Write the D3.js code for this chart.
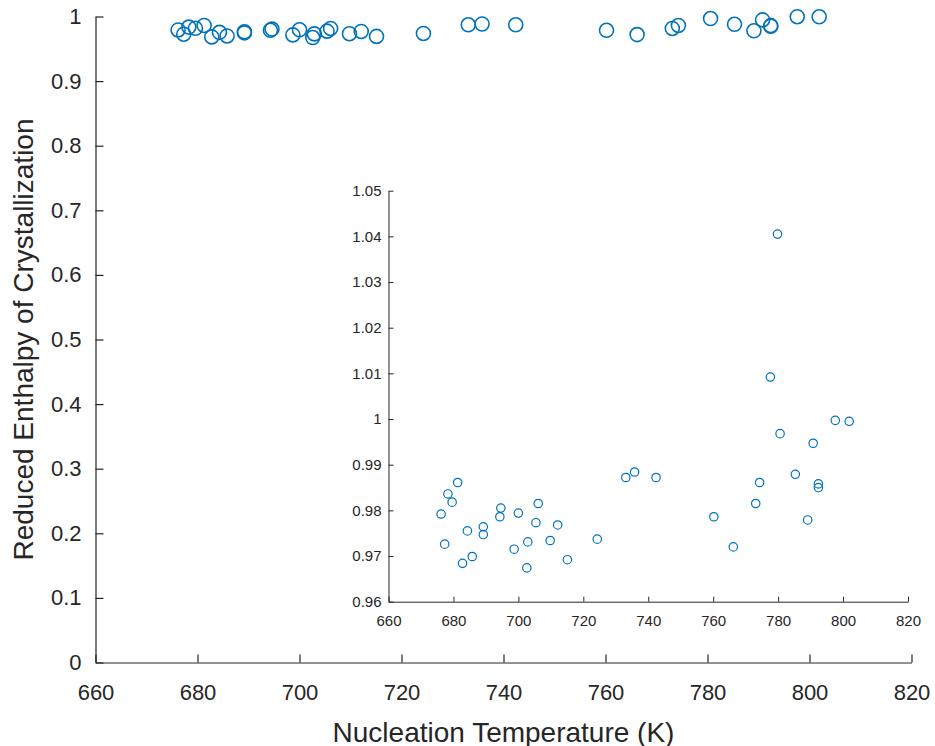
<!DOCTYPE html>
<html>
<head>
<meta charset="utf-8">
<script src="https://cdn.jsdelivr.net/npm/d3@7"></script>
<style>
  html, body { margin: 0; padding: 0; background: #fff; }
  svg text { font-family: "Liberation Sans", Arial, Helvetica, sans-serif; fill: #262626; }
</style>
</head>
<body>
<svg id="chart" width="935" height="746"></svg>
<script>
// Nucleation temperature (K) and reduced enthalpy of crystallization per run
const temperature = [
  676.2, 677.3, 678.3, 679.6, 681.3, 682.8, 684.3, 685.8, 689.2, 689.2,
  694.3, 694.6, 698.7, 700.0, 702.6, 702.9, 705.4, 706.1, 709.8, 712.1,
  715.1, 724.3, 733.1, 735.8, 742.4, 760.2, 766.2, 773.1, 774.3, 777.6,
  779.8, 780.6, 785.3, 789.1, 790.8, 792.4, 792.4, 797.6, 801.9
];
const enthalpy = [
  0.9792, 0.9726, 0.9836, 0.9818, 0.9861, 0.9684, 0.9755, 0.9699, 0.9764, 0.9747,
  0.9786, 0.9805, 0.9715, 0.9794, 0.9674, 0.9731, 0.9773, 0.9815, 0.9734, 0.9768,
  0.9692, 0.9737, 0.9872, 0.9884, 0.9872, 0.9786, 0.9720, 0.9815, 0.9861, 1.0092,
  1.0405, 0.9968, 0.9879, 0.9779, 0.9947, 0.9858, 0.9850, 0.9997, 0.9995
];

// Axis limits and tick values
const xTicks = [660, 680, 700, 720, 740, 760, 780, 800, 820];
const mainYTicks = [0, 0.1, 0.2, 0.3, 0.4, 0.5, 0.6, 0.7, 0.8, 0.9, 1];
const insetYTicks = [0.96, 0.97, 0.98, 0.99, 1, 1.01, 1.02, 1.03, 1.04, 1.05];

const points = temperature.map((t, i) => ({ t, h: enthalpy[i] }));
const markerColor = "#0072BD";
const axisColor = "#262626";

const svg = d3.select("#chart");

function drawAxes(g, x, y, opts) {
  const xAxis = d3.axisBottom(x)
    .tickValues(opts.xTicks)
    .tickFormat(d3.format("d"))
    .tickSizeInner(-opts.tick)
    .tickSizeOuter(0)
    .tickPadding(opts.xPad);
  const yAxis = d3.axisLeft(y)
    .tickValues(opts.yTicks)
    .tickFormat(d => String(+d.toFixed(2)))
    .tickSizeInner(-opts.tick)
    .tickSizeOuter(0)
    .tickPadding(opts.yPad);

  const gx = g.append("g")
    .attr("transform", `translate(0,${y.range()[0]})`)
    .call(xAxis);
  const gy = g.append("g")
    .attr("transform", `translate(${x.range()[0]},0)`)
    .call(yAxis);

  [gx, gy].forEach(a => {
    a.selectAll("path.domain").attr("stroke", axisColor).attr("stroke-width", opts.lw);
    a.selectAll(".tick line").attr("stroke", axisColor).attr("stroke-width", opts.lw);
    a.selectAll(".tick text")
      .attr("fill", axisColor)
      .style("font-size", opts.font + "px");
  });
}

// ---- Main axes ----
const main = { left: 95.5, right: 911.5, top: 16.5, bottom: 662.5 };
const xMain = d3.scaleLinear().domain([660, 820]).range([main.left, main.right]);
const yMain = d3.scaleLinear().domain([0, 1]).range([main.bottom, main.top]);

const gMain = svg.append("g");
drawAxes(gMain, xMain, yMain, {
  xTicks, yTicks: mainYTicks, tick: 8, xPad: 22, yPad: 14, font: 22, lw: 1.2
});

// markers whose centre lies outside the y-limits are not drawn
gMain.append("g")
  .selectAll("circle")
  .data(points.filter(p => p.h <= 1 && p.h >= 0))
  .join("circle")
  .attr("cx", d => xMain(d.t))
  .attr("cy", d => yMain(d.h))
  .attr("r", 7)
  .attr("fill", "none")
  .attr("stroke", markerColor)
  .attr("stroke-width", 1.6);

svg.append("text")
  .attr("x", (main.left + main.right) / 2)
  .attr("y", 741.5)
  .attr("text-anchor", "middle")
  .style("font-size", "28px")
  .text("Nucleation Temperature (K)");

svg.append("text")
  .attr("transform", `translate(33,${(main.top + main.bottom) / 2}) rotate(-90)`)
  .attr("text-anchor", "middle")
  .style("font-size", "28px")
  .text("Reduced Enthalpy of Crystallization");

// ---- Inset axes (zoomed y-range) ----
const inset = { left: 388.5, right: 908, top: 190.7, bottom: 601.7 };
const xIn = d3.scaleLinear().domain([660, 820]).range([inset.left, inset.right]);
const yIn = d3.scaleLinear().domain([0.96, 1.05]).range([inset.bottom, inset.top]);

const gIn = svg.append("g");
drawAxes(gIn, xIn, yIn, {
  xTicks, yTicks: insetYTicks, tick: 5, xPad: 14, yPad: 7, font: 15, lw: 1
});

gIn.append("g")
  .selectAll("circle")
  .data(points)
  .join("circle")
  .attr("cx", d => xIn(d.t))
  .attr("cy", d => yIn(d.h))
  .attr("r", 4.2)
  .attr("fill", "none")
  .attr("stroke", markerColor)
  .attr("stroke-width", 1.2);
</script>
</body>
</html>
